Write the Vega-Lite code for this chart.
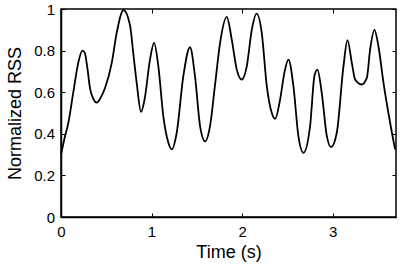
{
  "$schema": "https://vega.github.io/schema/vega-lite/v6.json",
  "width": 335,
  "height": 208,
  "autosize": {"type": "none"},
  "padding": {"left": 61, "top": 9, "right": 11, "bottom": 54},
  "background": "white",
  "config": {
    "view": {"stroke": "black", "strokeWidth": 1.5},
    "axis": {
      "grid": false,
      "labelFlush": false,
      "labelOverlap": false,
      "domainColor": "black",
      "domainWidth": 1.5,
      "tickColor": "black",
      "tickSize": -4,
      "tickWidth": 1,
      "labelFont": "Liberation Sans",
      "labelFontSize": 15,
      "labelColor": "black",
      "titleFont": "Liberation Sans",
      "titleFontSize": 18,
      "titleFontWeight": "normal",
      "titleColor": "black"
    }
  },
  "data": {
    "values": [
      {"t": 0, "v": 0.30}, {"t": 0.04, "v": 0.38}, {"t": 0.08, "v": 0.45},
      {"t": 0.136, "v": 0.60}, {"t": 0.19, "v": 0.74}, {"t": 0.236, "v": 0.80},
      {"t": 0.262, "v": 0.79}, {"t": 0.29, "v": 0.72}, {"t": 0.32, "v": 0.62},
      {"t": 0.357, "v": 0.568}, {"t": 0.394, "v": 0.55}, {"t": 0.44, "v": 0.575},
      {"t": 0.486, "v": 0.62}, {"t": 0.56, "v": 0.74}, {"t": 0.615, "v": 0.885},
      {"t": 0.69, "v": 0.995}, {"t": 0.763, "v": 0.92}, {"t": 0.80, "v": 0.78},
      {"t": 0.836, "v": 0.645}, {"t": 0.884, "v": 0.505}, {"t": 0.923, "v": 0.565},
      {"t": 0.983, "v": 0.757}, {"t": 1.028, "v": 0.837}, {"t": 1.075, "v": 0.725},
      {"t": 1.13, "v": 0.485}, {"t": 1.186, "v": 0.357}, {"t": 1.223, "v": 0.325},
      {"t": 1.278, "v": 0.405}, {"t": 1.351, "v": 0.677}, {"t": 1.425, "v": 0.816},
      {"t": 1.48, "v": 0.677}, {"t": 1.536, "v": 0.437}, {"t": 1.591, "v": 0.364},
      {"t": 1.646, "v": 0.437}, {"t": 1.70, "v": 0.63}, {"t": 1.757, "v": 0.837},
      {"t": 1.831, "v": 0.962}, {"t": 1.886, "v": 0.853}, {"t": 1.941, "v": 0.709},
      {"t": 1.996, "v": 0.661}, {"t": 2.052, "v": 0.725}, {"t": 2.107, "v": 0.90},
      {"t": 2.16, "v": 0.978}, {"t": 2.217, "v": 0.886}, {"t": 2.273, "v": 0.629},
      {"t": 2.328, "v": 0.50}, {"t": 2.365, "v": 0.472}, {"t": 2.42, "v": 0.565},
      {"t": 2.47, "v": 0.70}, {"t": 2.512, "v": 0.757}, {"t": 2.567, "v": 0.629},
      {"t": 2.622, "v": 0.389}, {"t": 2.678, "v": 0.309}, {"t": 2.751, "v": 0.437},
      {"t": 2.80, "v": 0.68}, {"t": 2.832, "v": 0.709}, {"t": 2.88, "v": 0.597},
      {"t": 2.936, "v": 0.389}, {"t": 2.983, "v": 0.336}, {"t": 3.046, "v": 0.405},
      {"t": 3.12, "v": 0.725}, {"t": 3.164, "v": 0.85}, {"t": 3.212, "v": 0.741},
      {"t": 3.249, "v": 0.661}, {"t": 3.32, "v": 0.637}, {"t": 3.378, "v": 0.669},
      {"t": 3.414, "v": 0.805}, {"t": 3.462, "v": 0.90}, {"t": 3.506, "v": 0.821},
      {"t": 3.562, "v": 0.645}, {"t": 3.635, "v": 0.453}, {"t": 3.69, "v": 0.325}
    ]
  },
  "layer": [
    {
      "mark": {"type": "line", "color": "black", "strokeWidth": 1.8, "interpolate": "monotone"},
      "encoding": {
        "x": {
          "field": "t", "type": "quantitative",
          "scale": {"domain": [0, 3.7], "nice": false},
          "axis": {"title": "Time (s)", "values": [0, 1, 2, 3], "format": "~g", "labelPadding": 11, "titlePadding": 4}
        },
        "y": {
          "field": "v", "type": "quantitative",
          "scale": {"domain": [0, 1], "nice": false},
          "axis": {"title": "Normalized RSS", "values": [0, 0.2, 0.4, 0.6, 0.8, 1], "format": "~g", "labelPadding": 10.5, "titlePadding": 9}
        }
      }
    },
    {
      "mark": {"type": "line", "opacity": 0},
      "encoding": {
        "x": {
          "field": "t", "type": "quantitative",
          "scale": {"domain": [0, 3.7], "nice": false},
          "axis": {"orient": "top", "title": null, "labels": false, "values": [0, 1, 2, 3], "domain": false}
        },
        "y": {
          "field": "v", "type": "quantitative",
          "scale": {"domain": [0, 1], "nice": false},
          "axis": {"orient": "right", "title": null, "labels": false, "values": [0, 0.2, 0.4, 0.6, 0.8, 1], "domain": false}
        }
      }
    }
  ],
  "resolve": {"axis": {"x": "independent", "y": "independent"}}
}
